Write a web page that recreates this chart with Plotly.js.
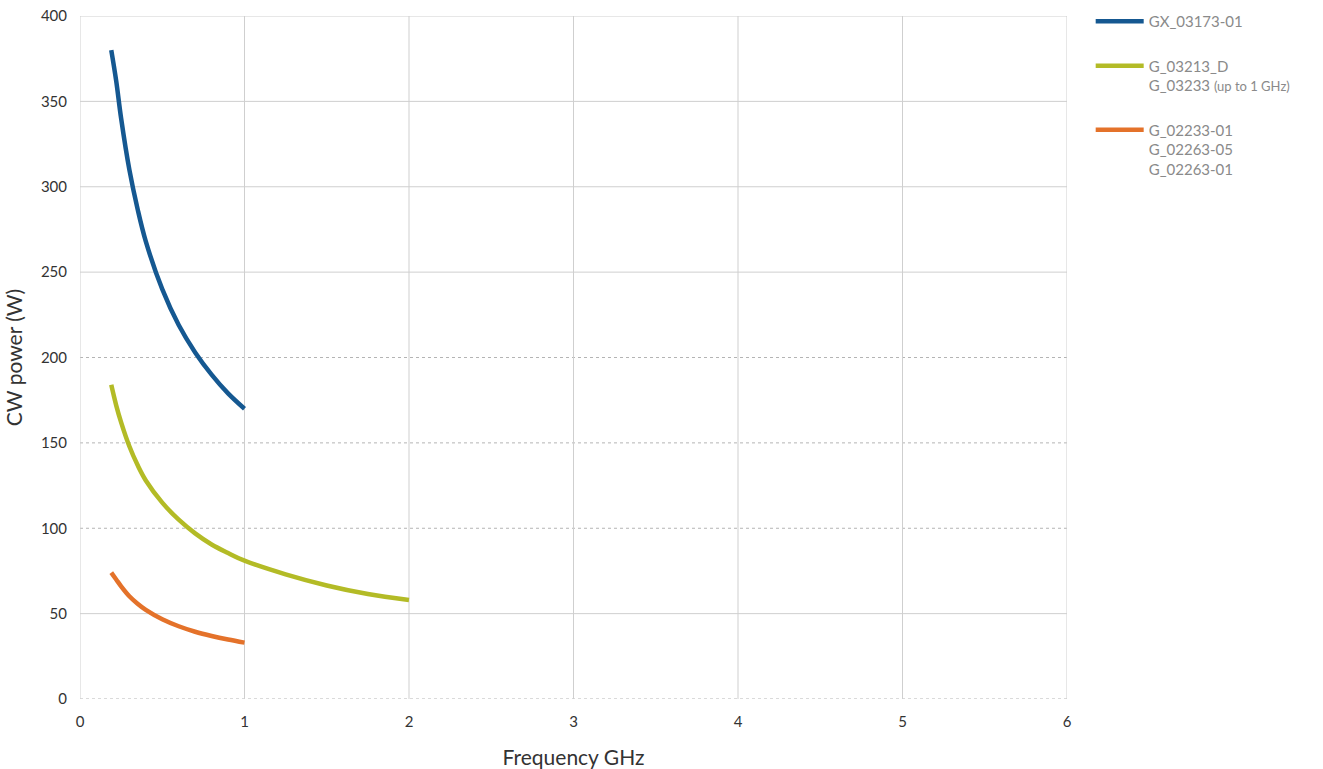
<!DOCTYPE html>
<html>
<head>
<meta charset="utf-8">
<script src="https://cdn.plot.ly/plotly-3.0.1.min.js"></script>
<style>html,body{margin:0;padding:0;background:#fff;}#chart{width:1323px;height:769px;}</style>
</head>
<body>
<div id="chart"></div>
<script>
// Data
const blueFreq = [0.19, 0.22, 0.25, 0.3, 0.35, 0.4, 0.5, 0.6, 0.7, 0.8, 0.9, 1.0];
const bluePower = [380, 362, 340, 310, 287, 268, 240, 219, 203, 190, 179, 170];
const greenFreq = [0.19, 0.22, 0.25, 0.3, 0.35, 0.4, 0.5, 0.6, 0.7, 0.8, 0.9, 1.0, 1.25, 1.5, 1.75, 2.0];
const greenPower = [184, 172, 162, 148, 137, 128, 115, 105, 97, 90.5, 85.5, 81, 73, 66.5, 61.5, 58];
const orangeFreq = [0.19, 0.22, 0.25, 0.3, 0.35, 0.4, 0.5, 0.6, 0.7, 0.8, 0.9, 1.0];
const orangePower = [74, 70, 66, 60.2, 55.8, 52.2, 46.7, 42.6, 39.4, 36.9, 34.8, 33];

const seriesNames = [
  "GX_03173-01",
  "G_03213_D<br>G_03233 <span style='font-size:13px'>(up to 1 GHz)</span>",
  "G_02233-01<br>G_02263-05<br>G_02263-01"
];
const xTicks = [0, 1, 2, 3, 4, 5, 6];
const yTicks = [0, 50, 100, 150, 200, 250, 300, 350, 400];
const dashedY = [0, 100, 150, 200];

const colors = ["#155891", "#b3bb26", "#e4722a"];

const traces = [
  {x: blueFreq, y: bluePower, name: seriesNames[0], legendgroup: "a"},
  {x: greenFreq, y: greenPower, name: seriesNames[1], legendgroup: "b"},
  {x: orangeFreq, y: orangePower, name: seriesNames[2], legendgroup: "c"}
].map((t, i) => Object.assign(t, {
  type: "scatter", mode: "lines",
  line: {color: colors[i], width: 4.5, shape: "spline", smoothing: 1}
}));

const shapes = [];
yTicks.forEach(v => {
  const dashed = dashedY.includes(v);
  shapes.push({type: "line", xref: "paper", yref: "y", x0: 0, x1: 1, y0: v, y1: v,
    layer: "below",
    line: {color: dashed ? "#b4b4b4" : "#cfcfcf", width: 1, dash: dashed ? "dot" : "solid"}});
});
xTicks.forEach(v => {
  shapes.push({type: "line", xref: "x", yref: "paper", x0: v, x1: v, y0: 0, y1: 1,
    layer: "below", line: {color: "#cfcfcf", width: 1}});
});

const layout = {
  width: 1323, height: 769,
  margin: {l: 80, r: 256, t: 16, b: 70, autoexpand: false},
  paper_bgcolor: "#fff", plot_bgcolor: "#fff",
  font: {family: "Lato, 'Open Sans', sans-serif", color: "#333"},
  showlegend: true,
  xaxis: {
    range: [0, 6], tickvals: xTicks, showgrid: false, zeroline: false, automargin: false,
    showline: false, ticks: "outside", ticklen: 9, tickcolor: "rgba(0,0,0,0)",
    tickfont: {size: 15, color: "#333"},
    title: {text: "Frequency GHz", font: {size: 21, color: "#333"}, standoff: 24}
  },
  yaxis: {
    range: [0, 400], tickvals: yTicks, showgrid: false, zeroline: false, automargin: false,
    showline: false, ticks: "outside", ticklen: 9, tickcolor: "rgba(0,0,0,0)",
    tickfont: {size: 15, color: "#333"},
    title: {text: "CW power (W)", font: {size: 21, color: "#333"}, standoff: 12}
  },
  legend: {
    x: 1.024, xanchor: "left", y: 1.016, yanchor: "top",
    font: {size: 15, color: "#8a8a8a"}, valign: "top",
    traceorder: "grouped", tracegroupgap: 22, itemwidth: 48
  },
  shapes: shapes
};

Plotly.newPlot("chart", traces, layout, {displayModeBar: false, staticPlot: true});
</script>
</body>
</html>
